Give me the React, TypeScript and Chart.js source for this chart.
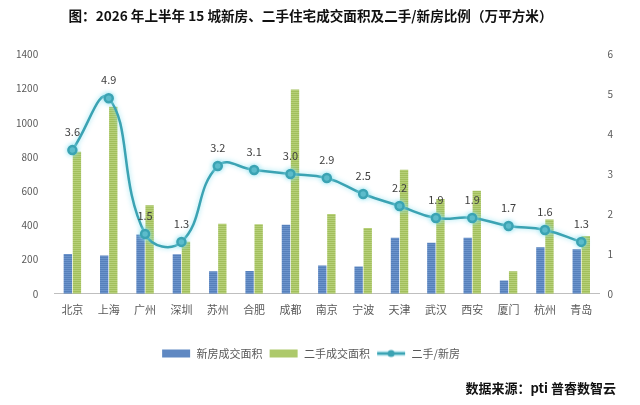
import React, { useEffect, useRef } from "react";
import { Chart, registerables } from "chart.js";

Chart.register(...registerables);

const cities = ["北京", "上海", "广州", "深圳", "苏州", "合肥", "成都", "南京", "宁波", "天津", "武汉", "西安", "厦门", "杭州", "青岛"];
const newHouseArea = [233, 224, 346, 231, 132, 134, 404, 165, 159, 327, 299, 327, 78, 272, 260];
const secondHandArea = [830, 1093, 517, 305, 410, 406, 1194, 467, 385, 725, 554, 603, 132, 434, 338];
const ratio = [3.6, 4.9, 1.5, 1.3, 3.2, 3.1, 3.0, 2.9, 2.5, 2.2, 1.9, 1.9, 1.7, 1.6, 1.3];
const seriesNames = ["新房成交面积", "二手成交面积", "二手/新房"];
const titleText = "图：2026 年上半年 15 城新房、二手住宅成交面积及二手/新房比例（万平方米）";
const sourceText = "数据来源：pti 普睿数智云";

const FONT = "'Noto Sans CJK SC', 'Noto Sans', sans-serif";

function stripePattern(a: string, b: string): CanvasPattern | string {
  const c = document.createElement("canvas");
  c.width = 4;
  c.height = 2;
  const g = c.getContext("2d");
  if (!g) return a;
  g.fillStyle = a;
  g.fillRect(0, 0, 4, 1);
  g.fillStyle = b;
  g.fillRect(0, 1, 4, 1);
  const p = g.createPattern(c, "repeat");
  return p || a;
}

function legendIcon(kind: "blue" | "green" | "line"): HTMLCanvasElement {
  const c = document.createElement("canvas");
  c.width = 30;
  c.height = 10;
  const g = c.getContext("2d")!;
  if (kind === "blue") {
    g.fillStyle = "#5f88c2";
    g.fillRect(1, 1, 28, 8);
  } else if (kind === "green") {
    g.fillStyle = "#adc96b";
    g.fillRect(1, 1, 28, 8);
  } else {
    g.strokeStyle = "#bdeaf2";
    g.lineWidth = 5;
    g.beginPath();
    g.moveTo(1, 5);
    g.lineTo(29, 5);
    g.stroke();
    g.strokeStyle = "#3ba3b3";
    g.lineWidth = 2.5;
    g.beginPath();
    g.moveTo(1, 5);
    g.lineTo(29, 5);
    g.stroke();
    g.fillStyle = "#3ba3b3";
    g.beginPath();
    g.arc(15, 5, 3.5, 0, Math.PI * 2);
    g.fill();
  }
  return c;
}

const extrasPlugin = {
  id: "extras",
  beforeDatasetDraw(chart: any, args: any) {
    if (args.index === 2) {
      const ctx = chart.ctx;
      ctx.save();
      ctx.shadowColor = "rgba(140, 225, 240, 0.9)";
      ctx.shadowBlur = 5;
    }
  },
  afterDatasetDraw(chart: any, args: any) {
    if (args.index === 2) {
      chart.ctx.restore();
    }
  },
  afterDatasetsDraw(chart: any) {
    const ctx = chart.ctx;
    const meta = chart.getDatasetMeta(2);
    ctx.save();
    ctx.font = `11px ${FONT}`;
    ctx.fillStyle = "#404040";
    ctx.textAlign = "center";
    ctx.textBaseline = "middle";
    meta.data.forEach((pt: any, i: number) => {
      ctx.fillText(ratio[i].toFixed(1), pt.x, pt.y - 18);
    });
    ctx.restore();
  },
  afterDraw(chart: any) {
    const ctx = chart.ctx;
    ctx.save();
    ctx.font = `bold 13px ${FONT}`;
    ctx.fillStyle = "#111111";
    ctx.textAlign = "right";
    ctx.textBaseline = "middle";
    ctx.fillText(sourceText, 616, 388);
    ctx.restore();
  },
};

export default function App() {
  const ref = useRef<HTMLCanvasElement | null>(null);

  useEffect(() => {
    if (!ref.current) return;
    const bluePat = stripePattern("#6b93cb", "#5680bb");
    const greenPat = stripePattern("#b6d078", "#a2bf5c");
    const icons = [legendIcon("blue"), legendIcon("green"), legendIcon("line")];

    const chart = new Chart(ref.current, {
      type: "bar",
      data: {
        labels: cities,
        datasets: [
          {
            type: "bar",
            label: seriesNames[0],
            data: newHouseArea,
            backgroundColor: bluePat as any,
            yAxisID: "y",
            categoryPercentage: 0.5,
            barPercentage: 0.92,
            order: 2,
          },
          {
            type: "bar",
            label: seriesNames[1],
            data: secondHandArea,
            backgroundColor: greenPat as any,
            yAxisID: "y",
            categoryPercentage: 0.5,
            barPercentage: 0.92,
            order: 2,
          },
          {
            type: "line",
            label: seriesNames[2],
            data: ratio,
            yAxisID: "y1",
            borderColor: "#3ba3b3",
            backgroundColor: "#3ba3b3",
            borderWidth: 2.5,
            tension: 0.45,
            pointRadius: 4,
            pointBackgroundColor: "#3ba3b3",
            pointBorderColor: "#3ba3b3",
            order: 1,
          } as any,
        ],
      },
      options: {
        animation: false,
        responsive: false,
        maintainAspectRatio: false,
        layout: { padding: { top: 0, left: 0, right: 19, bottom: 36 } },
        plugins: {
          title: {
            display: true,
            text: titleText,
            color: "#111111",
            font: { family: FONT, size: 13.6, weight: "bold" },
            padding: { top: 8, bottom: 30 },
          },
          legend: {
            display: true,
            position: "bottom",
            labels: {
              color: "#595959",
              font: { family: FONT, size: 11 },
              usePointStyle: true,
              pointStyleWidth: 30,
              padding: 6,
              boxWidth: 30,
              boxHeight: 10,
              sort: (a: any, b: any) => a.datasetIndex - b.datasetIndex,
              generateLabels: (ch: any) => {
                const items = Chart.defaults.plugins.legend.labels.generateLabels(ch);
                return items.map((it: any) => ({ ...it, pointStyle: icons[it.datasetIndex] }));
              },
            },
          },
          tooltip: { enabled: false },
        },
        scales: {
          x: {
            grid: { display: false, drawTicks: false },
            border: { display: true, color: "#bfbfbf", width: 1 },
            ticks: { color: "#595959", font: { family: FONT, size: 11 }, padding: 9, maxRotation: 0, autoSkip: false },
            afterFit: (scale: any) => {
              scale.height += 17;
            },
          },
          y: {
            position: "left",
            min: 0,
            max: 1400,
            grid: { display: false, drawTicks: false },
            border: { display: false },
            ticks: {
              stepSize: 200,
              color: "#595959",
              font: { family: FONT, size: 10 },
              padding: 16,
              callback: (v: any) => String(v),
            },
          },
          y1: {
            position: "right",
            min: 0,
            max: 6,
            grid: { display: false, drawTicks: false, drawOnChartArea: false },
            border: { display: false },
            ticks: {
              stepSize: 1,
              color: "#595959",
              font: { family: FONT, size: 10 },
              padding: 8,
              callback: (v: any) => String(v),
            },
          },
        },
      },
      plugins: [extrasPlugin],
    });
    return () => chart.destroy();
  }, []);

  return (
    <div style={{ position: "absolute", left: 0, top: 0, width: 640, height: 405, background: "#ffffff" }}>
      <canvas ref={ref} width={640} height={405} style={{ width: 640, height: 405, display: "block" }} />
    </div>
  );
}
